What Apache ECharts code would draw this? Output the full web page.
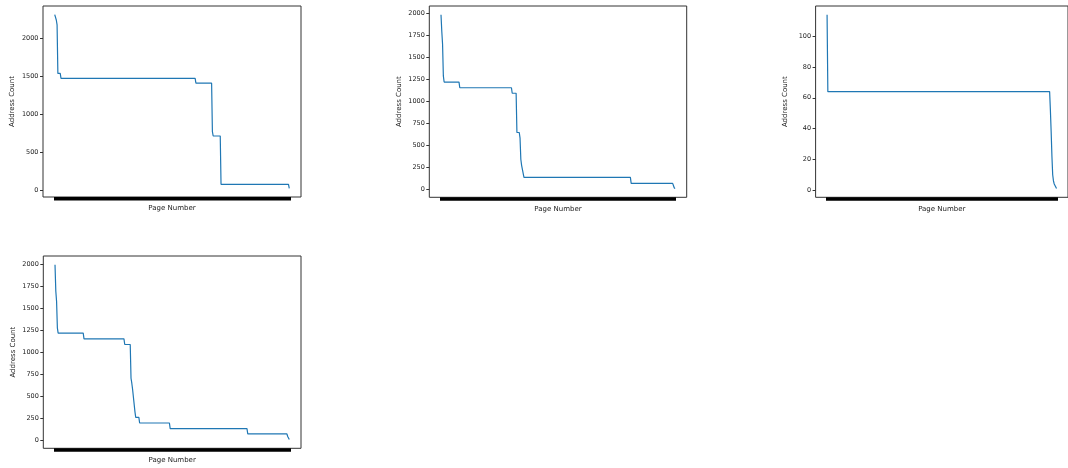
<!DOCTYPE html>
<html><head><meta charset="utf-8">
<script src="https://cdn.jsdelivr.net/npm/echarts@6/dist/echarts.min.js"></script>
<style>html,body{margin:0;padding:0;background:#fff}#c{width:1068px;height:468px}</style>
</head><body><div id="c"></div>
<script>
const PAGE_COUNT = 300;

const pages1  = [0,1,2,3,4,7,8,179,180,200,201,202,211,212,298,299];
const counts1 = [2315,2290,2245,2180,1540,1540,1475,1475,1410,1410,770,713,713,75,75,22];

const pages2  = [0,1,2,3,4,23,24,90,91,96,97,100,101,102,103,105,106,242,243,296,297,298,299];
const counts2 = [1988,1800,1650,1290,1220,1220,1155,1155,1092,1092,645,645,580,340,270,270,133,133,65,65,40,15,5];

const pages3  = [0,1,290,291,292,293,294,295,296,297,298,299];
const counts3 = [114,64,64,52,38,22,10,6,4,3,2,1];

const pages4  = [0,1,2,3,4,36,37,88,89,96,97,98,99,101,102,103,107,108,146,147,245,246,296,297,298,299];
const counts4 = [2000,1700,1580,1280,1220,1220,1154,1154,1090,1090,705,648,579,579,324,259,259,194,194,130,130,69,69,40,19,5];

const yTicks1 = [0,500,1000,1500,2000];
const yTicks2 = [0,250,500,750,1000,1250,1500,1750,2000];
const yTicks3 = [0,20,40,60,80,100];
const yTicks4 = [0,250,500,750,1000,1250,1500,1750,2000];

const xLabel = 'Page Number';
const yLabel = 'Address Count';

const panels = [
  {pages: pages1, counts: counts1, ticks: yTicks1, grid: {left: 43, top: 6, width: 258, height: 191}},
  {pages: pages2, counts: counts2, ticks: yTicks2, grid: {left: 429.3, top: 6, width: 257.4, height: 191.3}},
  {pages: pages3, counts: counts3, ticks: yTicks3, grid: {left: 815.6, top: 6, width: 257, height: 191.3}},
  {pages: pages4, counts: counts4, ticks: yTicks4, grid: {left: 43.3, top: 256, width: 257.7, height: 192.3}}
];

const pageTicks = Array.from({length: PAGE_COUNT}, (_, i) => i);
const FONT = 'DejaVu Sans';

const grids = [], xAxes = [], yAxes = [], series = [];
panels.forEach((p, i) => {
  grids.push(Object.assign({show: true, borderColor: '#333', borderWidth: 1, containLabel: false}, p.grid));
  const xpad = 0.05 * (PAGE_COUNT - 1);
  xAxes.push({
    type: 'value', gridIndex: i, position: 'bottom', min: -xpad, max: PAGE_COUNT - 1 + xpad,
    name: xLabel, nameLocation: 'middle', nameGap: 8,
    nameTextStyle: {fontFamily: FONT, fontSize: 7, color: '#222'},
    axisLine: {show: false, onZero: false},
    axisTick: {show: true, inside: false, customValues: pageTicks, length: 3.5, lineStyle: {color: '#000', width: 2}},
    axisLabel: {show: false},
    splitLine: {show: false}
  });
  const lo = Math.min(...p.counts), hi = Math.max(...p.counts);
  const ypad = 0.05 * (hi - lo);
  yAxes.push({
    type: 'value', gridIndex: i, position: 'left', min: lo - ypad, max: hi + ypad,
    name: yLabel, nameLocation: 'middle', nameGap: 27,
    nameTextStyle: {fontFamily: FONT, fontSize: 7, color: '#222'},
    axisLine: {show: false, onZero: false},
    axisTick: {show: true, inside: false, customValues: p.ticks, length: 3, lineStyle: {color: '#333', width: 1}},
    axisLabel: {show: true, customValues: p.ticks, fontFamily: FONT, fontSize: 6.5, color: '#222', margin: 4.5,
                formatter: v => String(v)},
    splitLine: {show: false}
  });
  series.push({
    type: 'line', xAxisIndex: i, yAxisIndex: i,
    data: p.pages.map((pg, k) => [pg, p.counts[k]]),
    showSymbol: false, symbol: 'none',
    lineStyle: {color: '#1f77b4', width: 1.2},
    animation: false
  });
});

const chart = echarts.init(document.getElementById('c'), null, {renderer: 'canvas'});
chart.setOption({
  animation: false,
  backgroundColor: '#fff',
  grid: grids, xAxis: xAxes, yAxis: yAxes, series: series
});
</script>
</body></html>
